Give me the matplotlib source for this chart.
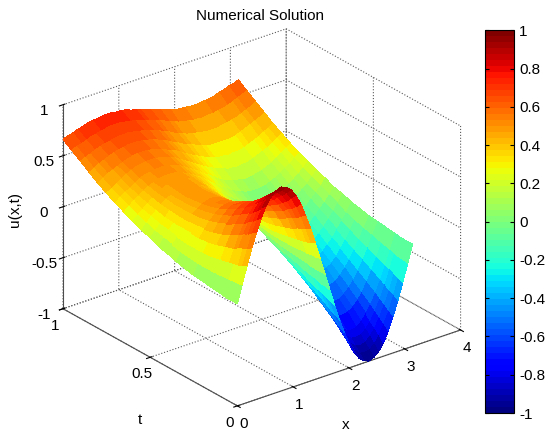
import numpy as np
import matplotlib
matplotlib.use("Agg")
import matplotlib.pyplot as plt

plt.rcParams['font.family'] = ['Liberation Sans', 'DejaVu Sans']
plt.rcParams['axes.unicode_minus'] = False
plt.rcParams['grid.linestyle'] = ':'
plt.rcParams['grid.color'] = '0.35'
plt.rcParams['grid.linewidth'] = 0.8

# surface values (rows: t, columns: x)
x_vals = [0, 0.087, 0.175, 0.262, 0.349, 0.436, 0.524, 0.611, 0.698, 0.785, 0.873, 0.960,
          1.047, 1.134, 1.222, 1.309, 1.396, 1.484, 1.571, 1.658, 1.745, 1.833, 1.920, 2.007,
          2.094, 2.182, 2.269, 2.356, 2.443, 2.531, 2.618, 2.705, 2.793, 2.880, 2.967, 3.054, 3.142]
t_vals = [0, 0.025, 0.05, 0.075, 0.1, 0.15, 0.2, 0.25, 0.3, 0.35, 0.4, 0.45, 0.5,
          0.55, 0.6, 0.65, 0.7, 0.75, 0.8, 0.85, 0.9, 0.95, 1.0]
u_vals = [
    [0, 0.17, 0.34, 0.5, 0.64, 0.77, 0.87, 0.94, 0.98, 1, 0.98, 0.94, 0.87, 0.77, 0.64, 0.5, 0.34, 0.17, 0, -0.17, -0.34, -0.5, -0.64, -0.77, -0.87, -0.94, -0.98, -1, -0.98, -0.94, -0.87, -0.77, -0.64, -0.5, -0.34, -0.17, 0],
    [0, 0.16, 0.32, 0.47, 0.61, 0.72, 0.82, 0.89, 0.93, 0.94, 0.93, 0.89, 0.82, 0.72, 0.61, 0.47, 0.32, 0.16, 0, -0.16, -0.32, -0.47, -0.61, -0.72, -0.82, -0.89, -0.93, -0.94, -0.93, -0.89, -0.82, -0.72, -0.61, -0.47, -0.32, -0.16, 0],
    [0, 0.16, 0.30, 0.45, 0.57, 0.68, 0.77, 0.84, 0.88, 0.89, 0.88, 0.84, 0.77, 0.68, 0.57, 0.45, 0.30, 0.16, 0, -0.16, -0.30, -0.45, -0.57, -0.68, -0.77, -0.84, -0.88, -0.89, -0.88, -0.84, -0.77, -0.68, -0.57, -0.45, -0.30, -0.16, 0],
    [0, 0.15, 0.29, 0.43, 0.55, 0.65, 0.73, 0.80, 0.83, 0.85, 0.83, 0.80, 0.73, 0.65, 0.55, 0.43, 0.29, 0.15, 0, -0.14, -0.28, -0.42, -0.54, -0.64, -0.73, -0.79, -0.83, -0.84, -0.83, -0.79, -0.73, -0.64, -0.54, -0.42, -0.28, -0.14, 0],
    [0.01, 0.15, 0.28, 0.40, 0.52, 0.61, 0.69, 0.75, 0.79, 0.80, 0.79, 0.75, 0.69, 0.61, 0.52, 0.40, 0.28, 0.15, 0.01, -0.13, -0.27, -0.39, -0.50, -0.60, -0.68, -0.74, -0.78, -0.79, -0.78, -0.74, -0.68, -0.60, -0.50, -0.39, -0.27, -0.13, 0.01],
    [0.02, 0.14, 0.26, 0.37, 0.47, 0.56, 0.63, 0.68, 0.71, 0.72, 0.71, 0.68, 0.63, 0.56, 0.47, 0.37, 0.26, 0.14, 0.02, -0.11, -0.23, -0.34, -0.44, -0.53, -0.60, -0.65, -0.68, -0.69, -0.68, -0.65, -0.60, -0.53, -0.44, -0.34, -0.23, -0.11, 0.02],
    [0.03, 0.14, 0.24, 0.34, 0.43, 0.51, 0.57, 0.62, 0.65, 0.66, 0.65, 0.62, 0.57, 0.51, 0.43, 0.34, 0.24, 0.14, 0.03, -0.08, -0.19, -0.29, -0.38, -0.46, -0.52, -0.57, -0.60, -0.61, -0.60, -0.57, -0.52, -0.46, -0.38, -0.29, -0.19, -0.08, 0.03],
    [0.04, 0.14, 0.23, 0.32, 0.40, 0.47, 0.53, 0.57, 0.60, 0.60, 0.60, 0.57, 0.53, 0.47, 0.40, 0.32, 0.23, 0.14, 0.04, -0.06, -0.15, -0.24, -0.32, -0.39, -0.45, -0.49, -0.51, -0.52, -0.51, -0.49, -0.45, -0.39, -0.32, -0.24, -0.15, -0.06, 0.04],
    [0.06, 0.15, 0.23, 0.31, 0.38, 0.44, 0.49, 0.53, 0.55, 0.56, 0.55, 0.53, 0.49, 0.44, 0.38, 0.31, 0.23, 0.15, 0.06, -0.03, -0.11, -0.19, -0.26, -0.33, -0.38, -0.41, -0.44, -0.44, -0.44, -0.41, -0.38, -0.33, -0.26, -0.19, -0.11, -0.03, 0.06],
    [0.08, 0.16, 0.23, 0.31, 0.37, 0.42, 0.47, 0.50, 0.52, 0.53, 0.52, 0.50, 0.47, 0.42, 0.37, 0.31, 0.23, 0.16, 0.08, 0.00, -0.07, -0.14, -0.21, -0.26, -0.31, -0.34, -0.36, -0.37, -0.36, -0.34, -0.31, -0.26, -0.21, -0.14, -0.07, 0.00, 0.08],
    [0.11, 0.18, 0.24, 0.31, 0.36, 0.41, 0.45, 0.48, 0.50, 0.51, 0.50, 0.48, 0.45, 0.41, 0.36, 0.31, 0.24, 0.18, 0.11, 0.04, -0.03, -0.09, -0.15, -0.20, -0.24, -0.27, -0.29, -0.29, -0.29, -0.27, -0.24, -0.20, -0.15, -0.09, -0.03, 0.04, 0.11],
    [0.13, 0.20, 0.26, 0.31, 0.36, 0.41, 0.44, 0.47, 0.48, 0.49, 0.48, 0.47, 0.44, 0.41, 0.36, 0.31, 0.26, 0.20, 0.13, 0.07, 0.01, -0.04, -0.09, -0.14, -0.17, -0.20, -0.22, -0.22, -0.22, -0.20, -0.17, -0.14, -0.09, -0.04, 0.01, 0.07, 0.13],
    [0.17, 0.22, 0.27, 0.32, 0.37, 0.41, 0.44, 0.46, 0.48, 0.48, 0.48, 0.46, 0.44, 0.41, 0.37, 0.32, 0.27, 0.22, 0.17, 0.11, 0.06, 0.01, -0.04, -0.08, -0.11, -0.13, -0.15, -0.15, -0.15, -0.13, -0.11, -0.08, -0.04, 0.01, 0.06, 0.11, 0.17],
    [0.20, 0.25, 0.30, 0.34, 0.38, 0.42, 0.44, 0.47, 0.48, 0.48, 0.48, 0.47, 0.44, 0.42, 0.38, 0.34, 0.30, 0.25, 0.20, 0.15, 0.10, 0.06, 0.02, -0.02, -0.04, -0.07, -0.08, -0.08, -0.08, -0.07, -0.04, -0.02, 0.02, 0.06, 0.10, 0.15, 0.20],
    [0.24, 0.28, 0.32, 0.36, 0.40, 0.43, 0.46, 0.48, 0.49, 0.49, 0.49, 0.48, 0.46, 0.43, 0.40, 0.36, 0.32, 0.28, 0.24, 0.19, 0.15, 0.11, 0.08, 0.05, 0.02, 0.00, -0.01, -0.01, -0.01, 0.00, 0.02, 0.05, 0.08, 0.11, 0.15, 0.19, 0.24],
    [0.28, 0.32, 0.36, 0.39, 0.42, 0.45, 0.47, 0.49, 0.50, 0.50, 0.50, 0.49, 0.47, 0.45, 0.42, 0.39, 0.36, 0.32, 0.28, 0.24, 0.20, 0.17, 0.14, 0.11, 0.09, 0.07, 0.06, 0.06, 0.06, 0.07, 0.09, 0.11, 0.14, 0.17, 0.20, 0.24, 0.28],
    [0.32, 0.36, 0.39, 0.42, 0.45, 0.48, 0.50, 0.51, 0.52, 0.52, 0.52, 0.51, 0.50, 0.48, 0.45, 0.42, 0.39, 0.36, 0.32, 0.29, 0.26, 0.22, 0.19, 0.17, 0.15, 0.14, 0.13, 0.12, 0.13, 0.14, 0.15, 0.17, 0.19, 0.22, 0.26, 0.29, 0.32],
    [0.37, 0.40, 0.43, 0.46, 0.49, 0.51, 0.53, 0.54, 0.55, 0.55, 0.55, 0.54, 0.53, 0.51, 0.49, 0.46, 0.43, 0.40, 0.37, 0.34, 0.31, 0.28, 0.26, 0.24, 0.22, 0.20, 0.20, 0.19, 0.20, 0.20, 0.22, 0.24, 0.26, 0.28, 0.31, 0.34, 0.37],
    [0.42, 0.45, 0.48, 0.50, 0.52, 0.54, 0.56, 0.57, 0.58, 0.58, 0.58, 0.57, 0.56, 0.54, 0.52, 0.50, 0.48, 0.45, 0.42, 0.39, 0.37, 0.34, 0.32, 0.30, 0.28, 0.27, 0.27, 0.26, 0.27, 0.27, 0.28, 0.30, 0.32, 0.34, 0.37, 0.39, 0.42],
    [0.48, 0.50, 0.53, 0.55, 0.57, 0.59, 0.60, 0.61, 0.62, 0.62, 0.62, 0.61, 0.60, 0.59, 0.57, 0.55, 0.53, 0.50, 0.48, 0.45, 0.43, 0.41, 0.39, 0.37, 0.35, 0.34, 0.34, 0.34, 0.34, 0.34, 0.35, 0.37, 0.39, 0.41, 0.43, 0.45, 0.48],
    [0.54, 0.56, 0.58, 0.60, 0.62, 0.63, 0.64, 0.65, 0.66, 0.66, 0.66, 0.65, 0.64, 0.63, 0.62, 0.60, 0.58, 0.56, 0.54, 0.51, 0.49, 0.47, 0.45, 0.44, 0.43, 0.42, 0.41, 0.41, 0.41, 0.42, 0.43, 0.44, 0.45, 0.47, 0.49, 0.51, 0.54],
    [0.60, 0.62, 0.63, 0.65, 0.67, 0.68, 0.69, 0.70, 0.71, 0.71, 0.71, 0.70, 0.69, 0.68, 0.67, 0.65, 0.63, 0.62, 0.60, 0.58, 0.56, 0.54, 0.52, 0.51, 0.50, 0.49, 0.49, 0.48, 0.49, 0.49, 0.50, 0.51, 0.52, 0.54, 0.56, 0.58, 0.60],
    [0.66, 0.68, 0.69, 0.71, 0.72, 0.74, 0.75, 0.75, 0.76, 0.76, 0.76, 0.75, 0.75, 0.74, 0.72, 0.71, 0.69, 0.68, 0.66, 0.64, 0.63, 0.61, 0.60, 0.58, 0.57, 0.57, 0.56, 0.56, 0.56, 0.57, 0.57, 0.58, 0.60, 0.61, 0.63, 0.64, 0.66],
]
x_ticks = [0, 1, 2, 3, 4]
t_ticks = [0, 0.5, 1]
t_labels = ['0', '0.5', '1']
z_ticks = [-1, -0.5, 0, 0.5, 1]
z_labels = ['-1', '-0.5', '0', '0.5', '1']
cb_ticks = [-1, -0.8, -0.6, -0.4, -0.2, 0, 0.2, 0.4, 0.6, 0.8, 1]
cb_labels = ['-1', '-0.8', '-0.6', '-0.4', '-0.2', '0', '0.2', '0.4', '0.6', '0.8', '1']

X, T = np.meshgrid(np.array(x_vals), np.array(t_vals))
U = np.array(u_vals)

fig = plt.figure(figsize=(5.5, 4.38), dpi=100)
ax = fig.add_axes([-0.025, -0.02, 0.98, 1.02], projection='3d', proj_type='ortho')
ax.view_init(elev=25.8, azim=-128)
ax.set_box_aspect((1, 1, 0.8), zoom=1.0)

jet = plt.get_cmap('jet', 64)
surf = ax.plot_surface(X, T, U, cmap=jet, vmin=-1, vmax=1, rstride=1, cstride=1,
                       linewidth=0, antialiased=False, shade=False)

ax.set_xlim(0, 4)
ax.set_ylim(0, 1)
ax.set_zlim(-1, 1)
ax.set_xticks(x_ticks)
ax.set_yticks(t_ticks)
ax.set_yticklabels(t_labels)
ax.set_zticks(z_ticks)
ax.set_zticklabels(z_labels)
ax.tick_params(labelsize=11)
ax.xaxis.set_tick_params(pad=-2)
ax.yaxis.set_tick_params(pad=-2)
ax.zaxis.set_tick_params(pad=0)
for a in (ax.xaxis, ax.yaxis, ax.zaxis):
    a.set_pane_color((1, 1, 1, 0))
    a.pane.set_edgecolor('none')
    a.line.set_color('0.3')

# axis labels placed like the matlab figure
fig.text(0.629, 0.030, 'x', ha='center', va='center', fontsize=11)
fig.text(0.255, 0.041, 't', ha='center', va='center', fontsize=11)
fig.text(0.027, 0.521, 'u(x,t)', ha='center', va='center', rotation=90, fontsize=11)
fig.text(0.473, 0.955, 'Numerical Solution', ha='center', fontsize=11)

cax = fig.add_axes([0.882, 0.057, 0.053, 0.874])
cb = fig.colorbar(surf, cax=cax)
cb.set_ticks(cb_ticks)
cb.set_ticklabels(cb_labels)
cax.tick_params(labelsize=11, direction='in', length=3, left=True, right=True)
cb.outline.set_linewidth(0.8)

fig.savefig('out.png', dpi=100)
